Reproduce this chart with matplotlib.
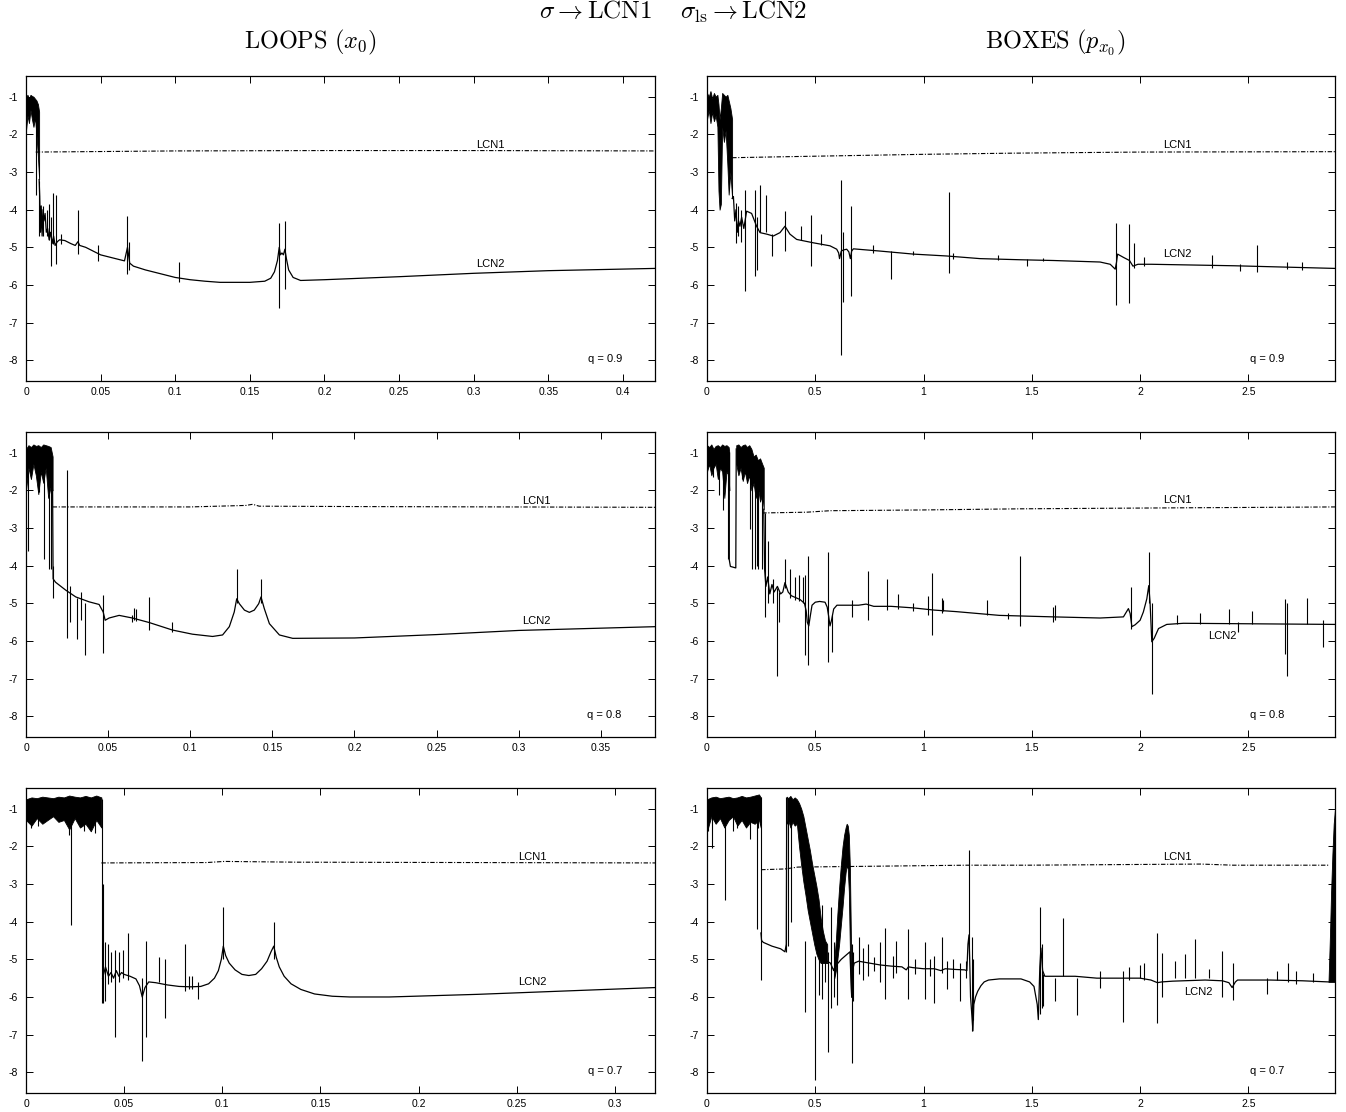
import matplotlib
matplotlib.use('Agg')
import matplotlib.pyplot as plt
from matplotlib.ticker import FixedLocator, FuncFormatter

plt.rcParams['font.family'] = ['Liberation Sans', 'DejaVu Sans']
plt.rcParams['mathtext.fontset'] = 'cm'
plt.rcParams['axes.unicode_minus'] = False

# ---- data: (x, y) points, bands (x, low, high), spikes (x, low, high) ----

# LOOPS, q = 0.9
tl_band = [(0.0, -1.9, -1.0), (0.001, -1.5, -0.95), (0.002, -1.7, -1.05), (0.003, -1.35, -0.95),
           (0.004, -1.6, -0.98), (0.005, -1.8, -1.0), (0.006, -1.55, -1.05), (0.007, -2.0, -1.1),
           (0.008, -2.6, -1.2), (0.0088, -3.2, -1.4)]
tl_lcn1 = [(0.0065, -2.47), (0.1, -2.44), (0.2, -2.43), (0.3, -2.43), (0.4215, -2.44)]
tl_lcn2 = [(0.0088, -3.2), (0.0092, -3.65), (0.0097, -4.6), (0.0102, -3.9), (0.0108, -4.7),
           (0.0114, -4.0), (0.012, -4.3), (0.0128, -4.1), (0.0136, -4.6), (0.0145, -4.5),
           (0.0155, -4.8), (0.0165, -4.6), (0.0175, -4.9), (0.0185, -4.7), (0.0195, -4.95),
           (0.021, -4.85), (0.0225, -4.8), (0.026, -4.82), (0.03, -4.9), (0.033, -4.95),
           (0.0348, -4.85), (0.036, -4.95), (0.04, -5.0), (0.05, -5.2), (0.06, -5.3),
           (0.066, -5.36), (0.068, -5.0), (0.0695, -5.42), (0.072, -5.5), (0.08, -5.6),
           (0.09, -5.7), (0.1, -5.8), (0.11, -5.86), (0.12, -5.9), (0.13, -5.93), (0.15, -5.93),
           (0.16, -5.9), (0.164, -5.82), (0.1665, -5.65), (0.1685, -5.35), (0.1697, -5.0),
           (0.1705, -5.2), (0.1715, -5.15), (0.1725, -5.2), (0.1735, -5.05), (0.1745, -5.3),
           (0.176, -5.6), (0.179, -5.8), (0.184, -5.88), (0.2, -5.86), (0.25, -5.78),
           (0.3, -5.69), (0.35, -5.62), (0.4215, -5.56)]
tl_spikes = [(0.0067, -3.6, -1.72), (0.009, -4.7, -3.25), (0.0115, -4.7, -3.9), (0.0143, -4.7, -4.0),
             (0.0154, -4.8, -3.85), (0.017, -5.5, -4.2), (0.0181, -4.9, -3.56), (0.0199, -5.45, -3.6),
             (0.0232, -4.9, -4.65), (0.0349, -5.18, -4.0), (0.0485, -5.35, -4.95),
             (0.0676, -5.71, -4.18), (0.0687, -5.6, -4.85), (0.1027, -5.93, -5.4),
             (0.1698, -6.6, -4.35), (0.1738, -6.1, -4.3)]

# BOXES, q = 0.9
tr_band = [(0.0, -1.6, -0.9), (0.008, -1.35, -1.0), (0.016, -1.7, -0.85), (0.024, -1.4, -1.05),
           (0.032, -1.65, -0.9), (0.04, -1.5, -1.0), (0.048, -1.8, -0.95), (0.053, -3.5, -1.2),
           (0.058, -4.0, -1.6), (0.064, -3.85, -1.3), (0.07, -1.8, -0.9), (0.078, -2.2, -0.95),
           (0.086, -1.9, -1.0), (0.094, -2.8, -0.95), (0.1, -3.6, -1.1), (0.108, -3.0, -1.3),
           (0.116, -3.7, -1.6)]
tr_lcn1 = [(0.116, -2.62), (0.3, -2.6), (0.6, -2.57), (1.0, -2.53), (1.4, -2.5), (2.0, -2.47),
           (2.9, -2.46)]
tr_lcn2 = [(0.116, -3.7), (0.122, -3.65), (0.128, -4.3), (0.134, -4.0), (0.14, -4.6), (0.146, -4.3),
           (0.152, -4.44), (0.16, -4.2), (0.17, -4.5), (0.183, -4.04), (0.206, -4.1), (0.229, -4.44),
           (0.245, -4.61), (0.276, -4.65), (0.306, -4.7), (0.337, -4.61), (0.36, -4.44),
           (0.383, -4.65), (0.414, -4.79), (0.491, -4.88), (0.568, -4.96), (0.599, -5.05),
           (0.608, -5.15), (0.612, -5.3), (0.62, -5.1), (0.63, -5.07), (0.645, -5.05),
           (0.655, -5.12), (0.662, -5.3), (0.668, -5.1), (0.676, -5.04), (0.8, -5.1),
           (0.953, -5.18), (1.107, -5.23), (1.261, -5.3), (1.446, -5.33), (1.6, -5.35),
           (1.815, -5.39), (1.862, -5.45), (1.885, -5.58), (1.891, -5.4), (1.896, -5.18),
           (1.924, -5.27), (1.951, -5.35), (1.967, -5.5), (1.99, -5.45), (2.052, -5.45),
           (2.437, -5.49), (2.9, -5.56)]
tr_spikes = [(0.134, -4.88, -3.82), (0.145, -4.7, -3.9), (0.155, -4.85, -4.0), (0.176, -6.15, -3.47),
             (0.222, -5.75, -3.47), (0.233, -5.6, -4.2), (0.245, -4.6, -3.35), (0.273, -4.6, -3.6),
             (0.299, -5.23, -4.65), (0.36, -5.1, -4.04), (0.434, -4.8, -4.43), (0.479, -5.5, -4.15),
             (0.527, -4.95, -4.65), (0.619, -7.85, -3.2), (0.627, -6.46, -4.6), (0.664, -6.28, -3.91),
             (0.765, -5.15, -4.95), (0.849, -5.84, -5.1), (0.953, -5.2, -5.1), (1.119, -5.69, -3.52),
             (1.138, -5.3, -5.15), (1.346, -5.33, -5.2), (1.476, -5.5, -5.3), (1.553, -5.36, -5.28),
             (1.889, -6.54, -4.35), (1.949, -6.47, -4.38), (1.972, -5.55, -4.88), (2.018, -5.5, -5.25),
             (2.331, -5.55, -5.2), (2.459, -5.62, -5.45), (2.539, -5.65, -4.94), (2.677, -5.58, -5.4),
             (2.746, -5.6, -5.4)]

# LOOPS, q = 0.8
ml_band = [(0.0, -2.0, -0.9), (0.0015, -1.4, -0.8), (0.003, -1.7, -0.85), (0.0045, -1.3, -0.78),
           (0.006, -1.6, -0.82), (0.0075, -2.1, -0.8), (0.009, -1.5, -0.85), (0.0105, -1.8, -0.78),
           (0.012, -1.4, -0.8), (0.0135, -2.2, -0.82), (0.015, -1.9, -0.85), (0.0162, -2.0, -1.1)]
ml_lcn1 = [(0.0162, -2.44), (0.1, -2.44), (0.134, -2.4), (0.138, -2.37), (0.142, -2.42),
           (0.2, -2.43), (0.383, -2.45)]
ml_lcn2 = [(0.0162, -2.0), (0.0165, -4.35), (0.018, -4.44), (0.0242, -4.65), (0.0303, -4.83),
           (0.0384, -4.96), (0.0445, -5.03), (0.047, -5.23), (0.0482, -5.45), (0.0506, -5.39),
           (0.0567, -5.32), (0.0648, -5.39), (0.075, -5.51), (0.0892, -5.71), (0.1014, -5.82),
           (0.1136, -5.88), (0.1197, -5.84), (0.1238, -5.62), (0.1268, -5.23), (0.1283, -4.88),
           (0.1299, -5.01), (0.133, -5.18), (0.136, -5.24), (0.139, -5.18), (0.1417, -5.01),
           (0.1431, -4.83), (0.1451, -5.14), (0.1482, -5.54), (0.1543, -5.84), (0.1624, -5.93),
           (0.2, -5.92), (0.25, -5.83), (0.3, -5.72), (0.383, -5.62)]
ml_spikes = [(0.0014, -3.6, -1.5), (0.0079, -2.05, -1.3), (0.011, -3.82, -1.4), (0.0138, -4.09, -1.5),
             (0.015, -4.09, -1.6), (0.0167, -4.85, -4.0), (0.0252, -5.93, -1.46), (0.0266, -5.5, -4.55),
             (0.0313, -5.95, -4.85), (0.0333, -5.45, -4.7), (0.036, -6.37, -5.0), (0.047, -6.33, -4.79),
             (0.0648, -5.5, -5.3), (0.066, -5.45, -5.12), (0.067, -5.48, -5.15), (0.0746, -5.7, -4.83),
             (0.0888, -5.75, -5.5), (0.1283, -5.0, -4.09), (0.1431, -5.0, -4.35)]

# BOXES, q = 0.8
mr_band = [(0.0, -1.5, -0.8), (0.01, -1.3, -0.85), (0.02, -1.6, -0.78), (0.03, -1.4, -0.9),
           (0.04, -1.3, -0.82), (0.05, -1.7, -0.8), (0.06, -1.4, -0.85), (0.07, -1.5, -0.78),
           (0.08, -2.2, -0.82), (0.09, -1.5, -0.8), (0.1, -1.6, -0.85), (0.103, -2.0, -1.0)]
mr_band2 = [(0.135, -1.3, -0.8), (0.145, -1.6, -0.78), (0.155, -1.4, -0.85), (0.165, -1.75, -0.8),
            (0.175, -1.5, -0.78), (0.185, -1.8, -0.85), (0.195, -1.6, -0.8), (0.205, -2.0, -0.9),
            (0.215, -1.8, -1.1), (0.225, -2.2, -1.05), (0.235, -1.9, -1.2), (0.245, -2.3, -1.15),
            (0.255, -2.1, -1.3), (0.262, -2.5, -1.4)]
mr_gap = [(0.103, -1.0), (0.103, -3.85), (0.108, -4.02), (0.133, -4.06), (0.135, -0.9)]
mr_lcn1 = [(0.255, -2.6), (0.46, -2.58), (0.57, -2.54), (1.0, -2.52), (1.45, -2.49), (2.0, -2.47),
           (2.9, -2.44)]
mr_lcn2 = [(0.262, -2.5), (0.266, -4.1), (0.272, -4.55), (0.28, -4.3), (0.29, -4.75), (0.3, -4.5),
           (0.31, -4.7), (0.325, -4.55), (0.34, -4.75), (0.35, -4.7), (0.36, -4.45), (0.375, -4.7),
           (0.39, -4.8), (0.41, -4.85), (0.43, -4.9), (0.45, -5.0), (0.458, -5.2), (0.463, -5.5),
           (0.47, -5.6), (0.478, -5.3), (0.485, -5.05), (0.5, -4.97), (0.52, -4.95), (0.545, -4.97),
           (0.555, -5.1), (0.562, -5.35), (0.568, -5.6), (0.575, -5.45), (0.585, -5.15), (0.6, -5.05),
           (0.7, -5.05), (0.735, -5.02), (0.77, -5.08), (0.85, -5.08), (0.95, -5.12), (1.05, -5.18),
           (1.15, -5.22), (1.25, -5.27), (1.35, -5.32), (1.6, -5.36), (1.815, -5.39), (1.923, -5.36),
           (1.946, -5.14), (1.954, -5.27), (1.962, -5.62), (1.977, -5.57), (2.0, -5.45),
           (2.015, -5.23), (2.031, -4.88), (2.04, -4.53), (2.046, -4.97), (2.054, -6.02),
           (2.065, -5.93), (2.085, -5.67), (2.123, -5.56), (2.2, -5.53), (2.9, -5.56)]
mr_spikes = [(0.029, -1.65, -1.0), (0.057, -2.11, -1.0), (0.072, -2.51, -1.0), (0.095, -3.82, -1.0),
             (0.16, -1.7, -1.0), (0.183, -1.8, -1.0), (0.199, -3.03, -1.2), (0.21, -4.09, -1.2),
             (0.222, -4.1, -1.3), (0.23, -4.0, -1.3), (0.237, -4.1, -1.4), (0.253, -4.1, -1.5),
             (0.268, -5.36, -2.6), (0.283, -5.0, -3.34), (0.306, -5.0, -4.35), (0.322, -6.94, -4.6),
             (0.334, -5.5, -4.7), (0.36, -4.6, -3.82), (0.383, -4.85, -4.1), (0.406, -4.9, -4.3),
             (0.427, -4.95, -4.25), (0.443, -5.0, -4.3), (0.454, -6.37, -4.25), (0.468, -6.63, -3.74),
             (0.56, -6.55, -3.65), (0.576, -6.3, -5.3), (0.668, -5.35, -4.9), (0.745, -5.45, -4.13),
             (0.83, -5.17, -4.35), (0.884, -5.15, -4.75), (0.953, -5.2, -5.0), (1.022, -5.3, -4.8),
             (1.038, -5.85, -4.2), (1.084, -5.25, -4.85), (1.092, -5.2, -4.9), (1.292, -5.3, -4.9),
             (1.392, -5.42, -5.25), (1.446, -5.6, -3.74), (1.6, -5.5, -5.1), (1.607, -5.45, -5.05),
             (1.957, -5.67, -4.57), (2.042, -5.0, -3.65), (2.054, -7.42, -5.0), (2.17, -5.55, -5.3),
             (2.277, -5.55, -5.25), (2.41, -5.55, -5.15), (2.45, -5.75, -5.5), (2.516, -5.55, -5.2),
             (2.67, -6.35, -4.88), (2.677, -6.94, -5.0), (2.77, -5.55, -4.85), (2.844, -6.15, -5.45)]

# LOOPS, q = 0.7
bl_band = [(0.0, -1.3, -0.75), (0.0028, -1.45, -0.7), (0.0055, -1.25, -0.72), (0.0083, -1.4, -0.68),
           (0.011, -1.3, -0.7), (0.0138, -1.2, -0.72), (0.0165, -1.35, -0.68), (0.0193, -1.3, -0.7),
           (0.022, -1.55, -0.65), (0.0248, -1.25, -0.68), (0.0275, -1.5, -0.7), (0.0303, -1.4, -0.66),
           (0.033, -1.6, -0.7), (0.0358, -1.3, -0.65), (0.0384, -1.5, -0.7)]
bl_lcn1 = [(0.0384, -2.44), (0.092, -2.43), (0.101, -2.4), (0.138, -2.42), (0.3204, -2.44)]
bl_lcn2 = [(0.039, -5.5), (0.0405, -5.2), (0.042, -5.45), (0.0433, -5.35), (0.0446, -5.5),
           (0.046, -5.3), (0.0473, -5.45), (0.0487, -5.35), (0.05, -5.4), (0.053, -5.45),
           (0.056, -5.52), (0.0578, -5.7), (0.0592, -6.0), (0.0606, -5.75), (0.0625, -5.6),
           (0.066, -5.62), (0.072, -5.68), (0.078, -5.72), (0.084, -5.73), (0.089, -5.72),
           (0.093, -5.65), (0.096, -5.5), (0.098, -5.3), (0.0995, -5.0), (0.1005, -4.65),
           (0.1017, -4.9), (0.1035, -5.1), (0.1065, -5.28), (0.11, -5.4), (0.1135, -5.43),
           (0.117, -5.4), (0.12, -5.25), (0.1228, -5.05), (0.1248, -4.8), (0.1262, -4.65),
           (0.1275, -4.95), (0.129, -5.2), (0.1315, -5.45), (0.135, -5.65), (0.14, -5.8),
           (0.147, -5.92), (0.156, -5.98), (0.165, -6.0), (0.185, -6.0), (0.23, -5.93),
           (0.275, -5.84), (0.3204, -5.75)]
bl_spikes = [(0.0026, -1.5, -1.0), (0.006, -1.45, -1.0), (0.022, -1.7, -1.0), (0.0229, -4.08, -1.0),
             (0.0294, -1.6, -1.0), (0.0349, -1.65, -1.0), (0.0387, -6.15, -0.75), (0.039, -6.15, -3.0),
             (0.0404, -6.1, -4.55), (0.0418, -5.65, -4.6), (0.0433, -5.6, -4.8), (0.0452, -7.05, -4.75),
             (0.0472, -5.6, -4.8), (0.0492, -5.5, -4.75), (0.0519, -5.55, -4.3), (0.0592, -7.7, -5.5),
             (0.061, -7.05, -4.5), (0.0676, -5.6, -4.95), (0.0707, -6.55, -5.0), (0.0808, -5.85, -4.6),
             (0.0831, -5.8, -5.45), (0.0845, -5.8, -5.45), (0.0875, -6.05, -5.6), (0.1005, -5.0, -3.6),
             (0.1262, -5.0, -4.0)]

# BOXES, q = 0.7
br_band = [(0.0, -1.6, -0.75), (0.02, -1.2, -0.7), (0.04, -1.4, -0.68), (0.06, -1.25, -0.72),
           (0.08, -1.5, -0.7), (0.1, -1.3, -0.68), (0.12, -1.2, -0.72), (0.14, -1.45, -0.7),
           (0.16, -1.3, -0.66), (0.18, -1.5, -0.7), (0.2, -1.35, -0.68), (0.22, -1.4, -0.65),
           (0.24, -1.3, -0.62), (0.248, -1.5, -0.7)]
br_band2 = [(0.368, -1.4, -0.68), (0.375, -1.3, -0.72), (0.385, -1.5, -0.66), (0.395, -1.35, -0.75),
            (0.405, -1.45, -0.7), (0.415, -1.4, -0.75), (0.425, -2.0, -0.85), (0.435, -2.5, -1.0),
            (0.445, -2.94, -1.2), (0.455, -3.3, -1.5), (0.465, -3.7, -1.8), (0.475, -4.0, -2.1),
            (0.485, -4.3, -2.45), (0.495, -4.6, -2.75), (0.505, -4.85, -3.05), (0.515, -5.0, -3.4),
            (0.525, -5.1, -3.9), (0.535, -5.1, -4.25), (0.545, -5.1, -4.5), (0.555, -5.1, -4.6)]
br_band3 = [(0.588, -5.5, -5.0), (0.595, -5.3, -4.5), (0.602, -5.0, -3.8), (0.61, -4.6, -3.1),
            (0.618, -4.1, -2.5), (0.626, -3.6, -2.0), (0.633, -3.1, -1.7), (0.64, -2.7, -1.5),
            (0.645, -2.5, -1.4), (0.65, -2.6, -1.45), (0.655, -3.2, -1.7), (0.66, -4.8, -2.6),
            (0.665, -6.0, -4.6)]
br_band4 = [(2.87, -5.6, -5.6), (2.876, -5.6, -4.5), (2.882, -5.6, -3.2), (2.888, -5.6, -2.2),
            (2.894, -5.6, -1.4), (2.9, -5.6, -1.0)]
br_lcn1 = [(0.25, -2.62), (0.36, -2.6), (0.42, -2.55), (1.2, -2.5), (1.48, -2.5), (2.28, -2.47),
           (2.43, -2.5), (2.87, -2.5)]
br_lcn2a = [(0.249, -4.3), (0.252, -4.5), (0.26, -4.55), (0.3, -4.65), (0.34, -4.72), (0.36, -4.8),
            (0.366, -4.6), (0.368, -1.4)]
br_lcn2 = [(0.555, -5.05), (0.57, -5.1), (0.585, -5.3), (0.59, -5.2), (0.62, -5.0), (0.66, -4.8),
           (0.668, -6.0), (0.672, -5.3), (0.68, -5.1), (0.7, -5.05), (0.75, -5.1), (0.8, -5.15),
           (0.85, -5.18), (0.9, -5.2), (0.92, -5.28), (0.93, -5.2), (0.95, -5.22), (1.0, -5.25),
           (1.05, -5.25), (1.08, -5.3), (1.1, -5.25), (1.15, -5.27), (1.19, -5.28), (1.2, -5.3),
           (1.205, -4.6), (1.21, -4.35), (1.213, -5.0), (1.217, -6.0), (1.222, -6.4), (1.228, -6.9),
           (1.232, -6.2), (1.24, -6.0), (1.25, -5.85), (1.265, -5.7), (1.28, -5.6), (1.3, -5.55),
           (1.35, -5.52), (1.45, -5.52), (1.49, -5.6), (1.51, -5.72), (1.525, -6.2), (1.53, -6.6),
           (1.537, -5.2), (1.542, -4.7), (1.55, -5.3), (1.56, -5.45), (1.6, -5.45), (1.7, -5.45),
           (1.8, -5.5), (1.9, -5.5), (2.0, -5.5), (2.05, -5.55), (2.08, -5.62), (2.1, -5.6),
           (2.15, -5.58), (2.3, -5.55), (2.38, -5.57), (2.41, -5.62), (2.425, -5.75), (2.44, -5.6),
           (2.45, -5.55), (2.6, -5.55), (2.75, -5.57), (2.87, -5.6)]
br_spikes = [(0.0055, -1.6, -1.0), (0.022, -2.05, -1.0), (0.083, -3.42, -1.0), (0.12, -1.6, -1.0),
             (0.14, -1.5, -1.0), (0.2, -1.8, -1.0), (0.229, -4.2, -1.0), (0.235, -1.5, -1.0),
             (0.249, -5.55, -0.7), (0.366, -4.8, -0.7), (0.372, -4.65, -1.2), (0.388, -4.0, -1.2),
             (0.453, -6.4, -4.5), (0.499, -8.2, -4.9), (0.515, -5.95, -4.9), (0.53, -6.05, -3.55),
             (0.545, -5.6, -4.6), (0.56, -7.45, -4.8), (0.572, -6.3, -3.6), (0.585, -6.0, -4.55),
             (0.6, -6.2, -4.6), (0.668, -7.75, -4.6), (0.672, -6.1, -4.8), (0.7, -5.4, -4.4),
             (0.72, -5.55, -4.7), (0.745, -5.45, -4.6), (0.77, -5.3, -4.95), (0.8, -5.6, -4.55),
             (0.822, -6.05, -4.17), (0.86, -5.5, -4.9), (0.875, -5.35, -4.5), (0.93, -6.05, -4.2),
             (0.96, -5.4, -5.0), (1.007, -6.05, -4.55), (1.03, -5.45, -5.0), (1.046, -6.15, -4.9),
             (1.084, -5.35, -4.4), (1.107, -5.8, -5.05), (1.138, -5.5, -5.0), (1.169, -6.1, -5.1),
             (1.195, -5.5, -5.05), (1.21, -5.0, -2.1), (1.222, -6.9, -4.4), (1.228, -6.6, -5.0),
             (1.537, -6.45, -3.6), (1.545, -6.3, -4.6), (1.553, -6.25, -5.4), (1.607, -6.1, -5.5),
             (1.646, -5.45, -3.9), (1.708, -6.49, -5.5), (1.815, -5.75, -5.3), (1.923, -6.66, -5.3),
             (1.95, -5.55, -5.2), (2.0, -5.5, -5.15), (2.02, -5.55, -5.1), (2.077, -6.7, -4.3),
             (2.1, -6.0, -4.83), (2.16, -5.5, -5.05), (2.208, -5.5, -4.87), (2.254, -5.5, -4.47),
             (2.316, -5.5, -5.25), (2.377, -6.0, -4.78), (2.431, -6.09, -5.1), (2.585, -5.92, -5.5),
             (2.631, -5.55, -5.3), (2.685, -5.6, -5.1), (2.72, -5.65, -5.3), (2.8, -5.6, -5.35)]

loops_ticks_09 = [0, 0.05, 0.1, 0.15, 0.2, 0.25, 0.3, 0.35, 0.4]
loops_ticks_08 = [0, 0.05, 0.1, 0.15, 0.2, 0.25, 0.3, 0.35]
loops_ticks_07 = [0, 0.05, 0.1, 0.15, 0.2, 0.25, 0.3]
boxes_ticks = [0, 0.5, 1, 1.5, 2, 2.5]
y_ticks = [-8, -7, -6, -5, -4, -3, -2, -1]


def cols(pts):
    return [list(c) for c in zip(*pts)]


# panel table: axes rect, x range, ticks, bands, LCN1, LCN2 pieces, spikes, label spots
W, H = 1346, 1112
panels = [
    dict(rect=(26, 76, 629), xmax=0.4215, ticks=loops_ticks_09, bands=[tl_band], lcn1=tl_lcn1,
         lcn2=[tl_lcn2], spikes=tl_spikes, q='q = 0.9', qx=0.388, l1=(0.311, -2.29), l2=(0.311, -5.45)),
    dict(rect=(707, 76, 628), xmax=2.9, ticks=boxes_ticks, bands=[tr_band], lcn1=tr_lcn1,
         lcn2=[tr_lcn2], spikes=tr_spikes, q='q = 0.9', qx=2.587, l1=(2.17, -2.29), l2=(2.17, -5.18)),
    dict(rect=(26, 432, 629), xmax=0.383, ticks=loops_ticks_08, bands=[ml_band], lcn1=ml_lcn1,
         lcn2=[ml_lcn2], spikes=ml_spikes, q='q = 0.8', qx=0.352, l1=(0.311, -2.29), l2=(0.311, -5.47)),
    dict(rect=(707, 432, 628), xmax=2.9, ticks=boxes_ticks, bands=[mr_band, mr_band2], lcn1=mr_lcn1,
         lcn2=[mr_gap, mr_lcn2], spikes=mr_spikes, q='q = 0.8', qx=2.587, l1=(2.17, -2.26),
         l2=(2.38, -5.87)),
    dict(rect=(26, 788, 629), xmax=0.3204, ticks=loops_ticks_07, bands=[bl_band], lcn1=bl_lcn1,
         lcn2=[bl_lcn2], spikes=bl_spikes, q='q = 0.7', qx=0.295, l1=(0.258, -2.29), l2=(0.258, -5.59)),
    dict(rect=(707, 788, 628), xmax=2.9, ticks=boxes_ticks,
         bands=[br_band, br_band2, br_band3, br_band4], lcn1=br_lcn1, lcn2=[br_lcn2a, br_lcn2],
         spikes=br_spikes, q='q = 0.7', qx=2.587, l1=(2.17, -2.29), l2=(2.268, -5.88)),
]

fig = plt.figure(figsize=(W / 100, H / 100), dpi=100)
fmt = FuncFormatter(lambda v, p: '%g' % v)

for p in panels:
    left, top, width = p['rect']
    ax = fig.add_axes([left / W, 1 - (top + 305) / H, width / W, 305 / H])

    for band in p['bands']:
        bx, blo, bhi = cols(band)
        ax.fill_between(bx, blo, bhi, color='black', lw=0.6)

    lx, ly = cols(p['lcn1'])
    ax.plot(lx, ly, color='black', lw=0.8, linestyle=(0, (4, 1.5, 1, 1.5)))

    for piece in p['lcn2']:
        px, py = cols(piece)
        ax.plot(px, py, color='black', lw=0.9)

    sx, slo, shi = cols(p['spikes'])
    ax.vlines(sx, slo, shi, color='black', lw=0.8)

    ax.text(p['l1'][0], p['l1'][1], 'LCN1', fontsize=8, ha='center', va='center')
    ax.text(p['l2'][0], p['l2'][1], 'LCN2', fontsize=8, ha='center', va='center')
    ax.text(p['qx'], -7.97, p['q'], fontsize=8, ha='center', va='center')

    ax.set_xlim(0, p['xmax'])
    ax.set_ylim(-8.55, -0.45)
    ax.xaxis.set_major_locator(FixedLocator(p['ticks']))
    ax.yaxis.set_major_locator(FixedLocator(y_ticks))
    ax.xaxis.set_major_formatter(fmt)
    ax.yaxis.set_major_formatter(fmt)
    ax.tick_params(direction='in', length=5, width=0.7, top=True, right=True,
                   labelsize=7.5, pad=4)
    ax.tick_params(axis='y', pad=6)
    for s in ax.spines.values():
        s.set_linewidth(0.9)

fig.text(0.5, 0.989,
         r'$\sigma \rightarrow \mathrm{LCN1} \quad\; \sigma_{\mathrm{ls}} \rightarrow \mathrm{LCN2}$',
         fontsize=18, ha='center', va='center')
fig.text(310 / W, 1 - 42 / H, r'$\mathrm{LOOPS}\ (x_0)$', fontsize=17.5, ha='center', va='center')
fig.text(1055 / W, 1 - 42 / H, r'$\mathrm{BOXES}\ (p_{x_0})$', fontsize=17.5, ha='center', va='center')

fig.savefig('out.png', dpi=100)
